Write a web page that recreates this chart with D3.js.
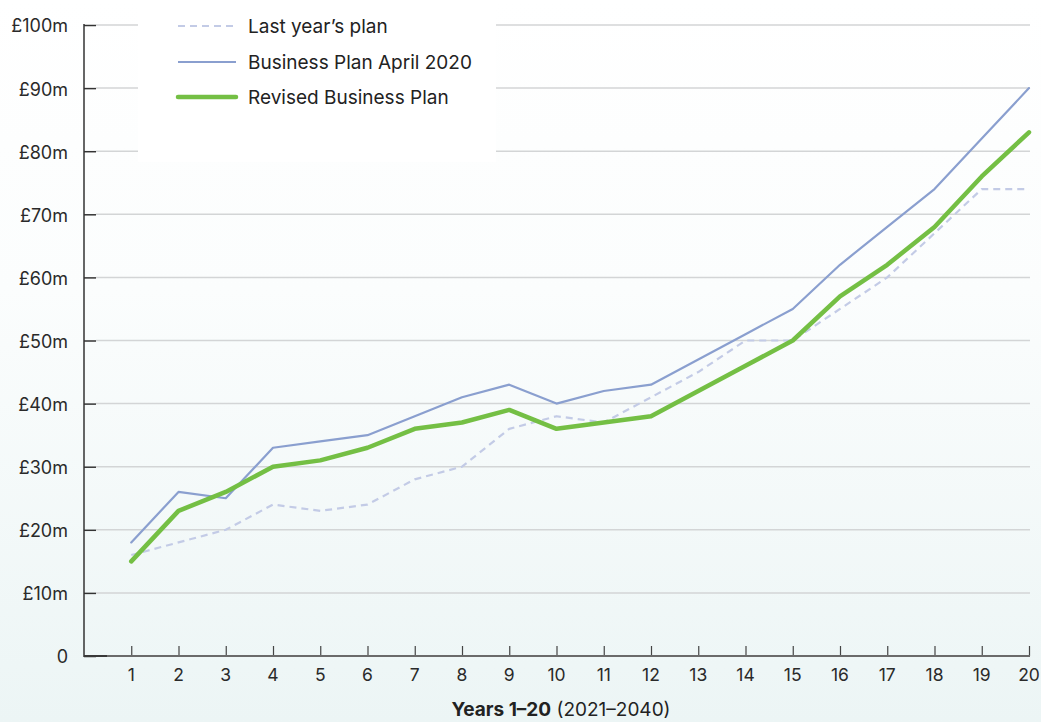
<!DOCTYPE html>
<html><head><meta charset="utf-8">
<script src="https://cdn.jsdelivr.net/npm/d3@7"></script>
<style>
html,body{margin:0;padding:0;background:#fff;}
svg{display:block;font-family:Inter,"Open Sans",sans-serif;}
</style></head>
<body><svg id="chart" width="1041" height="722"></svg>
<script>
const years = [1,2,3,4,5,6,7,8,9,10,11,12,13,14,15,16,17,18,19,20];
const lastYearPlan = [16,18,20,24,23,24,28,30,36,38,37,41,45,50,50,55,60,67,74,74];
const businessPlan2020 = [18,26,25,33,34,35,38,41,43,40,42,43,47,51,55,62,68,74,82,90];
const revisedPlan = [15,23,26,30,31,33,36,37,39,36,37,38,42,46,50,57,62,68,76,83];
const yTicks = [0,10,20,30,40,50,60,70,80,90,100];
const yTickLabels = ["0","£10m","£20m","£30m","£40m","£50m","£60m","£70m","£80m","£90m","£100m"];
const seriesNames = ["Last year’s plan","Business Plan April 2020","Revised Business Plan"];

const W = 1041, H = 722;
const svg = d3.select("#chart");
const defs = svg.append("defs");
const grad = defs.append("linearGradient").attr("id","bg").attr("x1",0).attr("y1",0).attr("x2",0).attr("y2",1);
grad.append("stop").attr("offset","0%").attr("stop-color","#ffffff");
grad.append("stop").attr("offset","40%").attr("stop-color","#fbfdfd");
grad.append("stop").attr("offset","100%").attr("stop-color","#ecf5f5");
svg.append("rect").attr("width",W).attr("height",H).attr("fill","url(#bg)");

const x = d3.scaleLinear().domain([0,20]).range([84,1029]);
const y = d3.scaleLinear().domain([0,100]).range([656,25]);

// gridlines
svg.append("g").selectAll("line").data(yTicks.filter(d=>d>0)).join("line")
  .attr("x1",96).attr("x2",1030).attr("y1",d=>y(d)).attr("y2",d=>y(d))
  .attr("stroke","#d3d5d6").attr("stroke-width",1.5);

// legend background
svg.append("rect").attr("x",138).attr("y",0).attr("width",358).attr("height",162).attr("fill","#ffffff");

// y axis
const yAxis = d3.axisRight(y).tickValues(yTicks).tickSize(12).tickFormat("");
const gy = svg.append("g").attr("transform","translate(84,0)").call(yAxis);
gy.select(".domain").remove();
gy.selectAll("line").attr("stroke","#333").attr("stroke-width",1.5);
svg.append("line").attr("x1",84).attr("x2",84).attr("y1",y(100)-1).attr("y2",y(0)+1)
  .attr("stroke","#333").attr("stroke-width",1.5);
svg.append("g").selectAll("text").data(yTicks).join("text")
  .attr("x",68).attr("y",d=>y(d)+1).attr("dy","0.36em").attr("text-anchor","end")
  .attr("font-size",18).attr("fill","#2a2a2a").text((d,i)=>yTickLabels[i]);

// x axis
const xAxis = d3.axisTop(x).tickValues(years).tickSize(10).tickFormat("");
const gx = svg.append("g").attr("transform","translate(0,656)").call(xAxis);
gx.select(".domain").remove();
gx.selectAll("line").attr("stroke","#444").attr("stroke-width",1.2);
svg.append("line").attr("x1",84).attr("x2",1030).attr("y1",656).attr("y2",656)
  .attr("stroke","#6a6a6a").attr("stroke-width",1.8);
svg.append("line").attr("x1",84).attr("x2",107).attr("y1",656).attr("y2",656)
  .attr("stroke","#333").attr("stroke-width",1.8);
svg.append("g").selectAll("text").data(years).join("text")
  .attr("x",d=>x(d)).attr("y",681).attr("text-anchor","middle")
  .attr("font-size",17.5).attr("fill","#2a2a2a").text(d=>d);

const title = svg.append("text").attr("x",561).attr("y",716).attr("text-anchor","middle")
  .attr("font-size",19).attr("fill","#222");
title.append("tspan").attr("font-weight","bold").text("Years 1–20");
title.append("tspan").text(" (2021–2040)");

// lines
const line = d3.line().x((d,i)=>x(years[i])).y(d=>y(d));
const series = [
  {vals:lastYearPlan, color:"#c3cbe6", width:2.2, dash:"7,5"},
  {vals:businessPlan2020, color:"#8a9fcf", width:2.2, dash:null},
  {vals:revisedPlan, color:"#74bf44", width:4.5, dash:null}
];
series.forEach(s=>{
  svg.append("path").datum(s.vals).attr("d",line).attr("fill","none")
    .attr("stroke",s.color).attr("stroke-width",s.width)
    .attr("stroke-linejoin","round").attr("stroke-linecap",s.dash?"butt":"round")
    .attr("stroke-dasharray",s.dash);
});

// legend
const legY = [26,62,97];
series.forEach((s,i)=>{
  svg.append("line").attr("x1",178).attr("x2",236).attr("y1",legY[i]).attr("y2",legY[i])
    .attr("stroke",s.color).attr("stroke-width",i==2?4.5:2.2)
    .attr("stroke-dasharray",s.dash).attr("stroke-linecap",i==2?"round":"butt");
  svg.append("text").attr("x",248).attr("y",legY[i]).attr("dy","0.36em")
    .attr("font-size",19).attr("fill","#222").text(seriesNames[i]);
});
</script></body></html>
